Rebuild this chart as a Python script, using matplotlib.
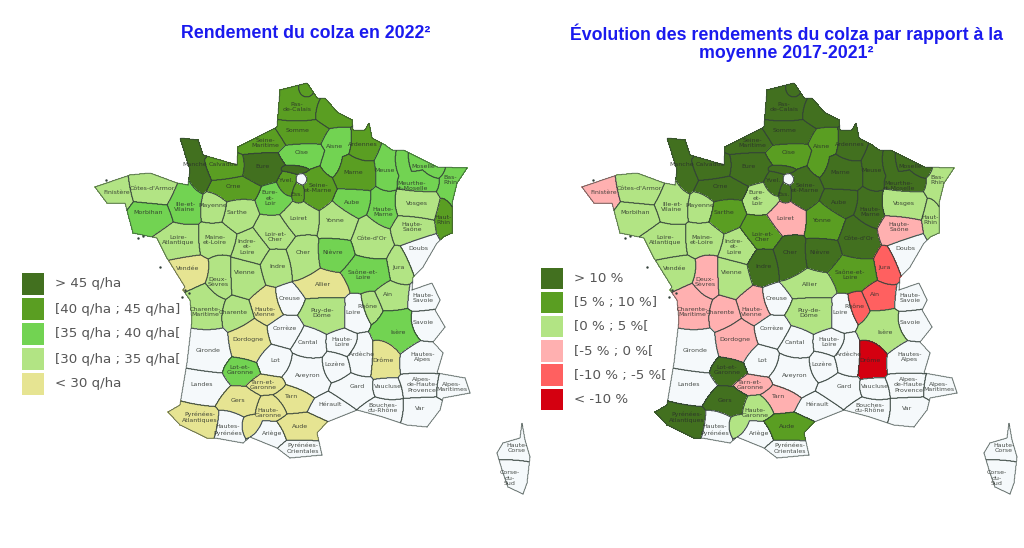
import numpy as np
import matplotlib
matplotlib.use("Agg")
import matplotlib.pyplot as plt
from matplotlib.path import Path
from matplotlib.patches import Rectangle

# departements : nom affiche et position du nom (repere de la carte de gauche)
DEPT_LABELS = {
    "Nord": ("", (320, 105)), "Pas-de-Calais": ("Pas-\nde-Calais", (297, 107)), "Somme": ("Somme", (298, 130)),
    "Seine-Maritime": ("Seine-\nMaritime", (265, 143)), "Oise": ("Oise", (302, 153)), "Aisne": ("Aisne", (335, 147)),
    "Ardennes": ("Ardennes", (363, 145)), "Marne": ("Marne", (353, 173)), "Meuse": ("Meuse", (385, 170)),
    "Moselle": ("Moselle", (423, 167)), "Meurthe-et-Moselle": ("Meurthe-\net-Moselle", (412, 186)),
    "Bas-Rhin": ("Bas-\nRhin", (450, 180)), "Haut-Rhin": ("Haut-\nRhin", (443, 220)), "Vosges": ("Vosges", (417, 203)),
    "Haute-Marne": ("Haute-\nMarne", (383, 212)), "Aube": ("Aube", (352, 202)),
    "Seine-et-Marne": ("Seine-\net-Marne", (318, 188)), "Essonne": ("Ess.", (297, 195)), "Yvelines": ("Yvel.", (287, 180)),
    "Val-d'Oise": ("", (293, 168)), "Paris": ("", (301, 179)), "Eure": ("Eure", (262, 167)),
    "Eure-et-Loir": ("Eure-\net-\nLoir", (270, 198)), "Orne": ("Orne", (233, 187)), "Calvados": ("Calvados", (223, 165)),
    "Manche": ("Manche", (195, 165)), "Ille-et-Vilaine": ("Ille-et-\nVilaine", (185, 207)), "Mayenne": ("Mayenne", (213, 205)),
    "Sarthe": ("Sarthe", (237, 213)), "Côtes-d'Armor": ("Côtes-d'Armor", (152, 188)), "Finistère": ("Finistère", (117, 193)),
    "Morbihan": ("Morbihan", (148, 213)), "Loire-Atlantique": ("Loire-\nAtlantique", (178, 240)),
    "Maine-et-Loire": ("Maine-\net-Loire", (215, 240)), "Indre-et-Loire": ("Indre-\net-\nLoire", (247, 247)),
    "Loir-et-Cher": ("Loir-et-\nCher", (275, 237)), "Loiret": ("Loiret", (298, 218)), "Yonne": ("Yonne", (335, 220)),
    "Côte-d'Or": ("Côte-d'Or", (372, 238)), "Haute-Saône": ("Haute-\nSaône", (412, 227)), "Doubs": ("Doubs", (418, 248)),
    "Jura": ("Jura", (398, 267)), "Nièvre": ("Nièvre", (333, 253)), "Cher": ("Cher", (303, 253)), "Indre": ("Indre", (277, 267)),
    "Vienne": ("Vienne", (245, 273)), "Deux-Sèvres": ("Deux-\nSèvres", (218, 282)), "Vendée": ("Vendée", (188, 268)),
    "Saône-et-Loire": ("Saône-et-\nLoire", (363, 275)), "Allier": ("Allier", (323, 285)), "Ain": ("Ain", (388, 295)),
    "Creuse": ("Creuse", (290, 298)), "Haute-Vienne": ("Haute-\nVienne", (265, 312)),
    "Charente-Maritime": ("Charente-\nMaritime", (205, 312)), "Charente": ("Charente", (233, 312)),
    "Puy-de-Dôme": ("Puy-de-\nDôme", (322, 313)), "Loire": ("Loire", (353, 312)), "Rhône": ("Rhône", (367, 307)),
    "Haute-Savoie": ("Haute-\nSavoie", (423, 298)), "Savoie": ("Savoie", (423, 322)), "Isère": ("Isère", (398, 333)),
    "Corrèze": ("Corrèze", (285, 328)), "Dordogne": ("Dordogne", (248, 340)), "Gironde": ("Gironde", (208, 350)),
    "Cantal": ("Cantal", (308, 342)), "Haute-Loire": ("Haute-\nLoire", (342, 342)), "Ardèche": ("Ardèche", (362, 355)),
    "Drôme": ("Drôme", (383, 360)), "Hautes-Alpes": ("Hautes-\nAlpes", (423, 357)), "Lot": ("Lot", (275, 360)),
    "Lozère": ("Lozère", (335, 365)), "Lot-et-Garonne": ("Lot-et-\nGaronne", (240, 370)), "Landes": ("Landes", (202, 385)),
    "Aveyron": ("Aveyron", (308, 375)), "Tarn-et-Garonne": ("Tarn-et-\nGaronne", (263, 385)), "Gers": ("Gers", (238, 400)),
    "Tarn": ("Tarn", (292, 397)), "Haute-Garonne": ("Haute-\nGaronne", (268, 413)), "Hérault": ("Hérault", (330, 405)),
    "Gard": ("Gard", (357, 387)), "Vaucluse": ("Vaucluse", (388, 387)),
    "Alpes-de-Haute-Provence": ("Alpes-\nde-Haute-\nProvence", (422, 385)), "Alpes-Maritimes": ("Alpes-\nMaritimes", (452, 387)),
    "Var": ("Var", (420, 408)), "Bouches-du-Rhône": ("Bouches-\ndu-Rhône", (383, 408)),
    "Pyrénées-Atlantiques": ("Pyrénées-\nAtlantiques", (200, 417)), "Hautes-Pyrénées": ("Hautes-\nPyrénées", (228, 430)),
    "Ariège": ("Ariège", (272, 433)), "Aude": ("Aude", (300, 427)), "Pyrénées-Orientales": ("Pyrénées-\nOrientales", (303, 448)),
    "Haute-Corse": ("Haute-\nCorse", (517, 448)), "Corse-du-Sud": ("Corse-\ndu-\nSud", (510, 478)),
}

DEPT_BOXES = {
    "Nord": [(298, 313, 83, 100), (315, 352, 98, 125)], "Pas-de-Calais": [(280, 318, 88, 125)], "Somme": [(277, 323, 118, 145)],
    "Seine-Maritime": [(237, 283, 127, 153)], "Oise": [(283, 322, 143, 168)], "Aisne": [(325, 352, 130, 155), (322, 342, 150, 177)],
    "Ardennes": [(350, 378, 130, 162)], "Marne": [(333, 377, 157, 192)], "Meuse": [(375, 397, 148, 193)],
    "Moselle": [(405, 425, 150, 170), (425, 445, 160, 178)], "Meurthe-et-Moselle": [(395, 412, 150, 175), (400, 438, 172, 192)],
    "Bas-Rhin": [(440, 467, 165, 203)], "Haut-Rhin": [(437, 452, 200, 237)], "Vosges": [(392, 437, 190, 220)],
    "Haute-Marne": [(367, 398, 188, 232)], "Aube": [(332, 373, 187, 218)], "Seine-et-Marne": [(303, 335, 170, 210)],
    "Essonne": [(292, 305, 183, 203)], "Yvelines": [(277, 295, 170, 197)], "Val-d'Oise": [(280, 307, 165, 173)],
    "Paris": [(297, 307, 175, 185)], "Eure": [(243, 283, 153, 185)], "Eure-et-Loir": [(257, 290, 183, 217)],
    "Orne": [(210, 260, 177, 203)], "Calvados": [(203, 245, 155, 180)], "Manche": [(180, 205, 138, 165), (190, 210, 160, 192)],
    "Ille-et-Vilaine": [(168, 202, 183, 225)], "Mayenne": [(200, 228, 192, 223)], "Sarthe": [(222, 257, 195, 233)],
    "Côtes-d'Armor": [(130, 177, 172, 207)], "Finistère": [(95, 132, 177, 217)], "Morbihan": [(125, 172, 200, 233)],
    "Loire-Atlantique": [(157, 203, 223, 260)], "Maine-et-Loire": [(195, 237, 223, 257)], "Indre-et-Loire": [(233, 270, 228, 270)],
    "Loir-et-Cher": [(253, 297, 213, 250)], "Loiret": [(277, 322, 203, 237)], "Yonne": [(317, 357, 200, 243)],
    "Côte-d'Or": [(353, 392, 215, 262)], "Haute-Saône": [(390, 430, 213, 247)], "Doubs": [(400, 438, 233, 273)],
    "Jura": [(387, 413, 247, 287)], "Nièvre": [(317, 353, 235, 272)], "Cher": [(287, 320, 233, 280)], "Indre": [(258, 293, 248, 285)],
    "Vienne": [(228, 265, 253, 297)], "Deux-Sèvres": [(207, 233, 253, 300)], "Vendée": [(167, 210, 255, 285)],
    "Saône-et-Loire": [(342, 392, 255, 293)], "Allier": [(298, 348, 270, 300)], "Ain": [(373, 412, 280, 312)],
    "Creuse": [(272, 303, 285, 315)], "Haute-Vienne": [(250, 285, 288, 325)], "Charente-Maritime": [(190, 227, 287, 338)],
    "Charente": [(217, 255, 298, 333)], "Puy-de-Dôme": [(302, 348, 295, 332)], "Loire": [(343, 372, 295, 333)],
    "Rhône": [(358, 383, 290, 323)], "Haute-Savoie": [(405, 440, 283, 313)], "Savoie": [(407, 445, 308, 340)],
    "Isère": [(373, 420, 308, 357)], "Corrèze": [(267, 303, 315, 348)], "Dordogne": [(228, 270, 317, 362)],
    "Gironde": [(188, 230, 320, 378)], "Cantal": [(292, 327, 327, 363)], "Haute-Loire": [(325, 363, 330, 357)],
    "Ardèche": [(347, 375, 333, 375)], "Drôme": [(370, 402, 333, 380)], "Hautes-Alpes": [(397, 442, 342, 377)],
    "Lot": [(258, 293, 345, 377)], "Lozère": [(320, 350, 350, 382)], "Lot-et-Garonne": [(223, 258, 357, 385)],
    "Landes": [(183, 227, 367, 405)], "Aveyron": [(283, 330, 350, 403)], "Tarn-et-Garonne": [(248, 287, 375, 395)],
    "Gers": [(218, 260, 387, 417)], "Tarn": [(273, 317, 382, 413)], "Haute-Garonne": [(255, 287, 395, 420), (240, 262, 415, 437)],
    "Hérault": [(307, 357, 392, 420)], "Gard": [(330, 373, 375, 410)], "Vaucluse": [(373, 402, 377, 400)],
    "Alpes-de-Haute-Provence": [(400, 440, 370, 397)], "Alpes-Maritimes": [(435, 470, 373, 398)], "Var": [(403, 442, 398, 427)],
    "Bouches-du-Rhône": [(357, 403, 398, 423)], "Pyrénées-Atlantiques": [(168, 222, 405, 438)], "Hautes-Pyrénées": [(215, 245, 407, 445)],
    "Ariège": [(250, 287, 422, 448)], "Aude": [(278, 327, 413, 443)], "Pyrénées-Orientales": [(280, 323, 438, 460)],
    "Haute-Corse": [(497, 530, 423, 460)], "Corse-du-Sud": [(497, 527, 460, 495)],
}

FRANCE_OUTLINE = [(307, 83), (317, 98), (325, 98), (337, 112), (352, 120), (353, 130), (365, 130), (369, 123),
                  (372, 138), (385, 145), (392, 150), (403, 150), (427, 162), (437, 167), (467, 168), (457, 183),
                  (452, 203), (452, 233), (443, 237), (437, 243), (423, 267), (413, 277), (412, 290), (432, 283),
                  (440, 300), (435, 310), (445, 327), (433, 342), (443, 353), (437, 373), (465, 378), (470, 393),
                  (443, 398), (440, 410), (427, 427), (407, 425), (383, 417), (357, 410), (327, 422), (317, 433),
                  (322, 455), (290, 458), (277, 448), (250, 437), (243, 443), (215, 438), (207, 438), (180, 425),
                  (168, 412), (180, 405), (187, 363), (192, 320), (190, 300), (183, 290), (185, 287), (167, 258),
                  (157, 238), (133, 233), (125, 203), (107, 203), (95, 187), (130, 175), (150, 173), (177, 183),
                  (188, 185), (190, 170), (180, 138), (198, 140), (203, 155), (237, 165), (238, 147), (277, 127),
                  (280, 90)]
CORSE_OUTLINE = [(522, 423), (525, 440), (530, 457), (527, 483), (523, 494), (508, 487), (503, 473), (497, 453),
                 (503, 443), (520, 438)]
ISLANDS_X = [185, 189, 160, 138, 143, 106, 182]
ISLANDS_Y = [290, 293, 267, 238, 236, 180, 297]

# rendement 2022, par classe
RDT_45_PLUS = ["Manche", "Eure", "Val-d'Oise"]
RDT_40_45 = ["Nord", "Pas-de-Calais", "Somme", "Seine-Maritime", "Ardennes", "Marne", "Calvados", "Orne", "Yvelines",
             "Essonne", "Seine-et-Marne", "Haut-Rhin"]
RDT_35_40 = ["Oise", "Aisne", "Meuse", "Moselle", "Meurthe-et-Moselle", "Bas-Rhin", "Aube", "Haute-Marne",
             "Eure-et-Loir", "Ille-et-Vilaine", "Morbihan", "Nièvre", "Saône-et-Loire", "Isère", "Lot-et-Garonne"]
RDT_30_35 = ["Côtes-d'Armor", "Finistère", "Mayenne", "Sarthe", "Loire-Atlantique", "Maine-et-Loire", "Indre-et-Loire",
             "Loir-et-Cher", "Loiret", "Yonne", "Côte-d'Or", "Vosges", "Haute-Saône", "Cher", "Indre", "Vienne",
             "Deux-Sèvres", "Jura", "Ain", "Charente-Maritime", "Charente", "Puy-de-Dôme", "Rhône"]
RDT_30_MOINS = ["Vendée", "Allier", "Haute-Vienne", "Dordogne", "Drôme", "Tarn-et-Garonne", "Gers", "Tarn",
                "Haute-Garonne", "Aude", "Pyrénées-Atlantiques"]

# evolution par rapport a 2017-2021, par classe
EVO_10_PLUS = ["Nord", "Pas-de-Calais", "Somme", "Seine-Maritime", "Eure", "Manche", "Calvados", "Orne", "Ardennes",
               "Marne", "Meuse", "Moselle", "Meurthe-et-Moselle", "Aube", "Haute-Marne", "Seine-et-Marne", "Essonne",
               "Yvelines", "Val-d'Oise", "Côte-d'Or", "Nièvre", "Cher", "Indre", "Lot-et-Garonne", "Gers",
               "Pyrénées-Atlantiques"]
EVO_5_10 = ["Oise", "Aisne", "Sarthe", "Loir-et-Cher", "Yonne", "Saône-et-Loire", "Aude"]
EVO_0_5 = ["Côtes-d'Armor", "Morbihan", "Ille-et-Vilaine", "Mayenne", "Loire-Atlantique", "Maine-et-Loire",
           "Eure-et-Loir", "Indre-et-Loire", "Vendée", "Vienne", "Vosges", "Bas-Rhin", "Haut-Rhin", "Allier",
           "Puy-de-Dôme", "Isère", "Haute-Garonne"]
EVO_M5_0 = ["Finistère", "Loiret", "Haute-Saône", "Deux-Sèvres", "Charente-Maritime", "Charente", "Haute-Vienne",
            "Dordogne", "Tarn-et-Garonne", "Tarn"]
EVO_M10_M5 = ["Jura", "Ain", "Rhône"]
EVO_M10_MOINS = ["Drôme"]

RDT_LEGEND = ["> 45 q/ha", "[40 q/ha ; 45 q/ha]", "[35 q/ha ; 40 q/ha[", "[30 q/ha ; 35 q/ha[", "< 30 q/ha"]
EVO_LEGEND = ["> 10 %", "[5 % ; 10 %]", "[0 % ; 5 %[", "[-5 % ; 0 %[", "[-10 % ; -5 %[", "< -10 %"]

RDT_COLORS = ["#42701f", "#5a9e22", "#72d352", "#b2e484", "#e6e492"]
EVO_COLORS = ["#42701f", "#5a9e22", "#b2e484", "#ffb0b0", "#ff6060", "#d40010"]
NO_DATA = "#f5f9fb"
OFFSET_RIGHT = 487

# grille : chaque point va au departement dont l'ellipse (emprise) est la plus proche
names = list(DEPT_LABELS)
xs = np.arange(90, 535, 0.5)
ys = np.arange(78, 500, 0.5)
X, Y = np.meshgrid(xs, ys)
pts = np.column_stack([X.ravel(), Y.ravel()])
inside = Path(FRANCE_OUTLINE).contains_points(pts) | Path(CORSE_OUTLINE).contains_points(pts)
best = np.full(X.shape, np.inf)
grid = np.full(X.shape, -1)
for i, name in enumerate(names):
    for x0, x1, y0, y1 in DEPT_BOXES[name]:
        cx, cy, hw, hh = (x0 + x1) / 2, (y0 + y1) / 2, (x1 - x0) / 2, (y1 - y0) / 2
        dist = np.hypot((X - cx) / hw, (Y - cy) / hh)
        closer = dist < best
        best[closer] = dist[closer]
        grid[closer] = i
grid[~inside.reshape(X.shape)] = -1


def draw_map(ax, groups, colors, dx):
    lookup = {}
    for group, col in zip(groups, colors):
        for dept in group:
            lookup[dept] = col
    for i, name in enumerate(names):
        rows, cols = np.where(grid == i)
        if len(rows) == 0:
            continue
        r0, r1 = max(rows.min() - 2, 0), rows.max() + 3
        c0, c1 = max(cols.min() - 2, 0), cols.max() + 3
        sub = (grid[r0:r1, c0:c1] == i).astype(float)
        xx = X[r0:r1, c0:c1] + dx
        yy = Y[r0:r1, c0:c1]
        ax.contourf(xx, yy, sub, levels=[0.5, 1.5], colors=[lookup.get(name, NO_DATA)])
        ax.contour(xx, yy, sub, levels=[0.5], colors="#33403a", linewidths=0.6, alpha=0.8)
        label, pos = DEPT_LABELS[name]
        if label:
            ax.text(pos[0] + dx, pos[1], label, fontsize=4.5, color="#2a2f2a", ha="center",
                    va="center", linespacing=1.15, alpha=0.85)
    ax.scatter(np.array(ISLANDS_X) + dx, ISLANDS_Y, s=3, color="#33403a", linewidths=0)


def draw_legend(ax, labels, colors, x, y_top, step):
    for i, (lab, col) in enumerate(zip(labels, colors)):
        y = y_top + i * step
        ax.add_patch(Rectangle((x, y), 22, 21.5, facecolor=col, edgecolor="none"))
        ax.text(x + 33, y + 11, lab, fontsize=9.6, color="#555555", ha="left", va="center")


plt.rcParams["font.family"] = ["DejaVu Sans"]
fig = plt.figure(figsize=(10.24, 5.48), dpi=100)
ax = fig.add_axes([0, 0, 1, 1])
ax.set_xlim(0, 1024)
ax.set_ylim(548, 0)
ax.axis("off")

draw_map(ax, [RDT_45_PLUS, RDT_40_45, RDT_35_40, RDT_30_35, RDT_30_MOINS], RDT_COLORS, 0)
draw_map(ax, [EVO_10_PLUS, EVO_5_10, EVO_0_5, EVO_M5_0, EVO_M10_M5, EVO_M10_MOINS], EVO_COLORS, OFFSET_RIGHT)

draw_legend(ax, RDT_LEGEND, RDT_COLORS, 22, 273, 25)
draw_legend(ax, EVO_LEGEND, EVO_COLORS, 541, 267.5, 24.2)

title_style = dict(family="Liberation Sans", fontweight="bold", fontsize=12.8, color="#1a1aee", ha="center", va="center")
ax.text(305.5, 33, "Rendement du colza en 2022²", **title_style)
ax.text(786.5, 43, "Évolution des rendements du colza par rapport à la\nmoyenne 2017-2021²", linespacing=1.05, **title_style)

fig.savefig("out.png", dpi=100)
